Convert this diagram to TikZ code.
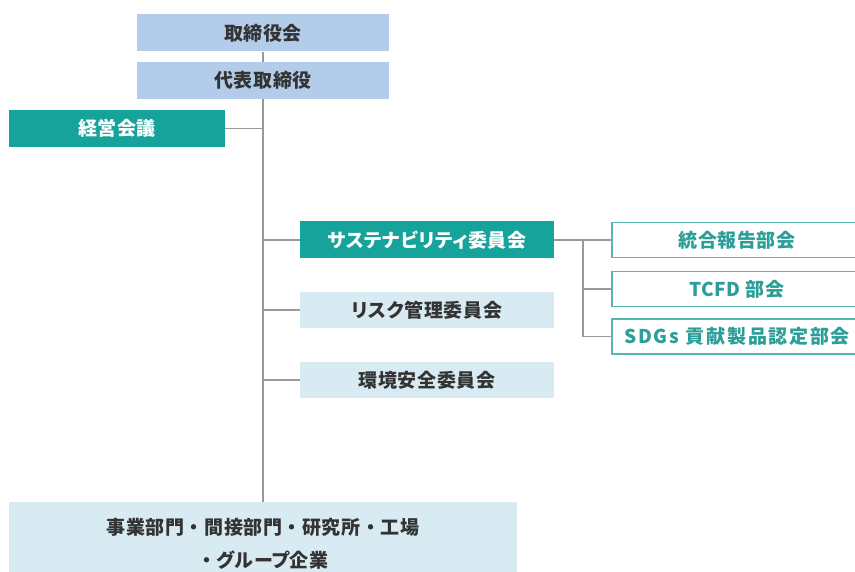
\documentclass[tikz,border=0pt]{standalone}
\usepackage{fontspec}
\newfontfamily\jp{Noto Sans CJK JP}[LetterSpace=3]
\newfontfamily\jpp{Noto Sans CJK JP}[LetterSpace=3,RawFeature=+palt]
\newfontfamily\jpw{Noto Sans CJK JP}[LetterSpace=9]
\definecolor{topblue}{HTML}{B3CCEA}
\definecolor{teal1}{HTML}{16A39B}
\definecolor{lightbox}{HTML}{D8EAF2}
\definecolor{outl}{HTML}{56B6B0}
\definecolor{tealtext}{HTML}{2A9E98}
\definecolor{conn}{HTML}{9A9A9A}
\definecolor{darktext}{HTML}{333333}
\tikzset{
  base/.style={inner sep=0pt, font=\jp\bfseries\fontsize{19}{33}\selectfont, align=center},
  topbox/.style={base, fill=topblue, text=darktext, minimum width=252pt, minimum height=37pt},
  tealbox/.style={base, fill=teal1, text=white, minimum height=37pt},
  lightbox/.style={base, fill=lightbox, text=darktext, minimum width=254pt, minimum height=36pt},
  outbox/.style={base, draw=outl, line width=1.5pt, fill=white, text=tealtext, minimum width=250pt, minimum height=35pt},
  connector/.style={draw=conn, line width=1.5pt}
}
\begin{document}
\begin{tikzpicture}[x=1pt,y=-1pt]
\useasboundingbox (0,0) rectangle (855,572);
\clip (0,0) rectangle (855,572);
\fill[white] (0,0) rectangle (855,572);
% nodes
\node[topbox] (bod) at (263,33) {取締役会};
\node[topbox] (ceo) at (263,80.5) {代表取締役};
\node[tealbox, minimum width=216pt] (mgmt) at (117,128.5) {経営会議};
\node[tealbox, minimum width=254pt] (sus) at (427,240) {\jpp\bfseries サステナビリティ委員会};
\node[lightbox] (risk) at (427,310) {\jpp\bfseries リスク管理委員会};
\node[lightbox] (env) at (427,380) {環境安全委員会};
\node[outbox] (r1) at (737,240) {統合報告部会};
\node[outbox] (r2) at (737,289) {TCFD\hspace{5pt}部会};
\node[outbox] (r3) at (737,336.5) {\jpw\bfseries SDGs\hspace{7pt}貢献製品認定部会};
\node[base, fill=lightbox, text=darktext, minimum width=508pt, minimum height=84pt] (bottom) at (263,544) {事業部門・間接部門・研究所・工場\\・{\jpp\bfseries グループ}企業};
% connectors
\draw[connector] (bod.south) -- (ceo.north);
\draw[connector] (ceo.south) -- (bottom.north);
\draw[connector] (mgmt.east) -- (mgmt.east -| ceo.south);
\draw[connector] (sus.west) -- (sus.west -| ceo.south);
\draw[connector] (risk.west) -- (risk.west -| ceo.south);
\draw[connector] (env.west) -- (env.west -| ceo.south);
\coordinate (j) at (583,240);
\draw[connector] (sus.east) -- (r1.west);
\draw[connector] (j) |- (r2.west);
\draw[connector] (j) |- (r3.west);
\end{tikzpicture}
\end{document}
